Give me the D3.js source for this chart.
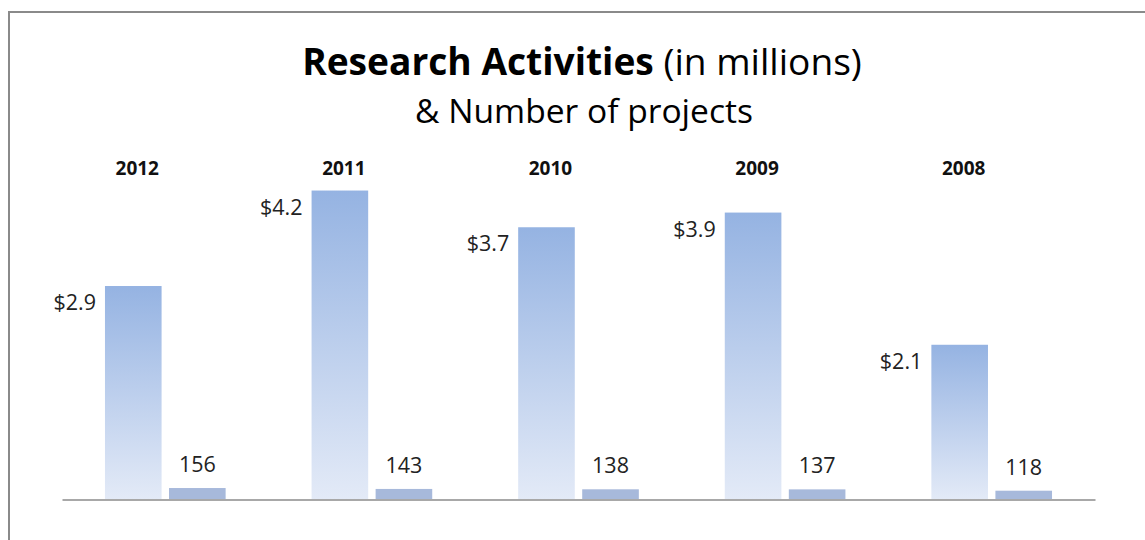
<!DOCTYPE html>
<html>
<head>
<meta charset="utf-8">
<script src="https://cdn.jsdelivr.net/npm/d3@7"></script>
<style>
  html, body { margin: 0; padding: 0; background: #fff; }
  svg { display: block; font-family: "Open Sans", "Noto Sans", sans-serif; }
</style>
</head>
<body>
<svg id="chart" width="1145" height="540"></svg>
<script>
const years = ["2012", "2011", "2010", "2009", "2008"];
const amounts = [2.9, 4.2, 3.7, 3.9, 2.1];          // $ millions
const projects = [156, 143, 138, 137, 118];         // number of projects
const series = ["amount", "projects"];
const titleBold = "Research Activities";
const titleRest = " (in millions)";
const subtitle = "& Number of projects";

const svg = d3.select("#chart");
const W = 1145, H = 540;

// frame
svg.append("rect").attr("x", 9).attr("y", 12).attr("width", W + 20).attr("height", H + 20)
  .attr("fill", "#fff").attr("stroke", "#8a8a8a").attr("stroke-width", 2);

// gradient
const defs = svg.append("defs");
const grad = defs.append("linearGradient").attr("id", "barGrad")
  .attr("x1", 0).attr("y1", 0).attr("x2", 0).attr("y2", 1);
grad.append("stop").attr("offset", "0%").attr("stop-color", "#95b3e2");
grad.append("stop").attr("offset", "100%").attr("stop-color", "#e3eaf7");

const baseY = 499, topY = 168.5;
const x0 = d3.scaleBand().domain(years).range([62, 1095]).paddingInner(0.416).paddingOuter(0.208);
const x1 = d3.scaleBand().domain(series).range([0, x0.bandwidth()]).paddingInner(0.116);
const yA = d3.scaleLinear().domain([0, 4.5]).range([baseY, topY]);
const yP = d3.scaleLinear().domain([0, 4700]).range([baseY, topY]);

const data = years.map((y, i) => ({ year: y, amount: amounts[i], projects: projects[i] }));

const g = svg.append("g");

// amount bars
g.selectAll("rect.amt").data(data).join("rect").attr("class", "amt")
  .attr("x", d => x0(d.year) + x1("amount"))
  .attr("y", d => yA(d.amount))
  .attr("width", x1.bandwidth())
  .attr("height", d => baseY - yA(d.amount))
  .attr("fill", "url(#barGrad)");

// project bars
g.selectAll("rect.prj").data(data).join("rect").attr("class", "prj")
  .attr("x", d => x0(d.year) + x1("projects"))
  .attr("y", d => yP(d.projects))
  .attr("width", x1.bandwidth())
  .attr("height", d => baseY - yP(d.projects))
  .attr("fill", "#a7b9db");

// amount labels
g.selectAll("text.amtl").data(data).join("text").attr("class", "amtl")
  .attr("x", d => x0(d.year) + x1("amount") - 9)
  .attr("y", d => yA(d.amount) + 24)
  .attr("text-anchor", "end")
  .attr("font-size", 21.5).attr("fill", "#222")
  .text(d => "$" + d3.format(".1f")(d.amount));

// project labels
g.selectAll("text.prjl").data(data).join("text").attr("class", "prjl")
  .attr("x", d => x0(d.year) + x1("projects") + x1.bandwidth() / 2)
  .attr("y", d => yP(d.projects) - 16)
  .attr("text-anchor", "middle")
  .attr("font-size", 21.5).attr("fill", "#222")
  .text(d => d.projects);

// year labels
g.selectAll("text.yr").data(data).join("text").attr("class", "yr")
  .attr("x", d => x0(d.year) + x1("amount") + x1.bandwidth() / 2 + 4)
  .attr("y", 175)
  .attr("text-anchor", "middle")
  .attr("font-size", 19).attr("font-weight", "bold").attr("fill", "#111")
  .text(d => d.year);

// axis baseline
const axis = svg.append("g").attr("transform", `translate(0,${baseY + 0.5})`)
  .call(d3.axisBottom(x0).tickSize(0).tickFormat(""));
axis.select(".domain").attr("stroke", "#a8a8a8").attr("stroke-width", 2);

// title
const t = svg.append("text").attr("x", 582).attr("y", 75).attr("text-anchor", "middle")
  .attr("font-size", 32).attr("fill", "#000");
t.append("tspan").attr("font-weight", "bold").text(titleBold);
t.append("tspan").text(titleRest);
let tw = t.node().getComputedTextLength();
t.attr("font-size", 32 * 560 / tw);

const s = svg.append("text").attr("x", 584).attr("y", 123).attr("text-anchor", "middle")
  .attr("font-size", 28).attr("fill", "#000").text(subtitle);
let sw = s.node().getComputedTextLength();
s.attr("font-size", 28 * 338 / sw);
</script>
</body>
</html>
